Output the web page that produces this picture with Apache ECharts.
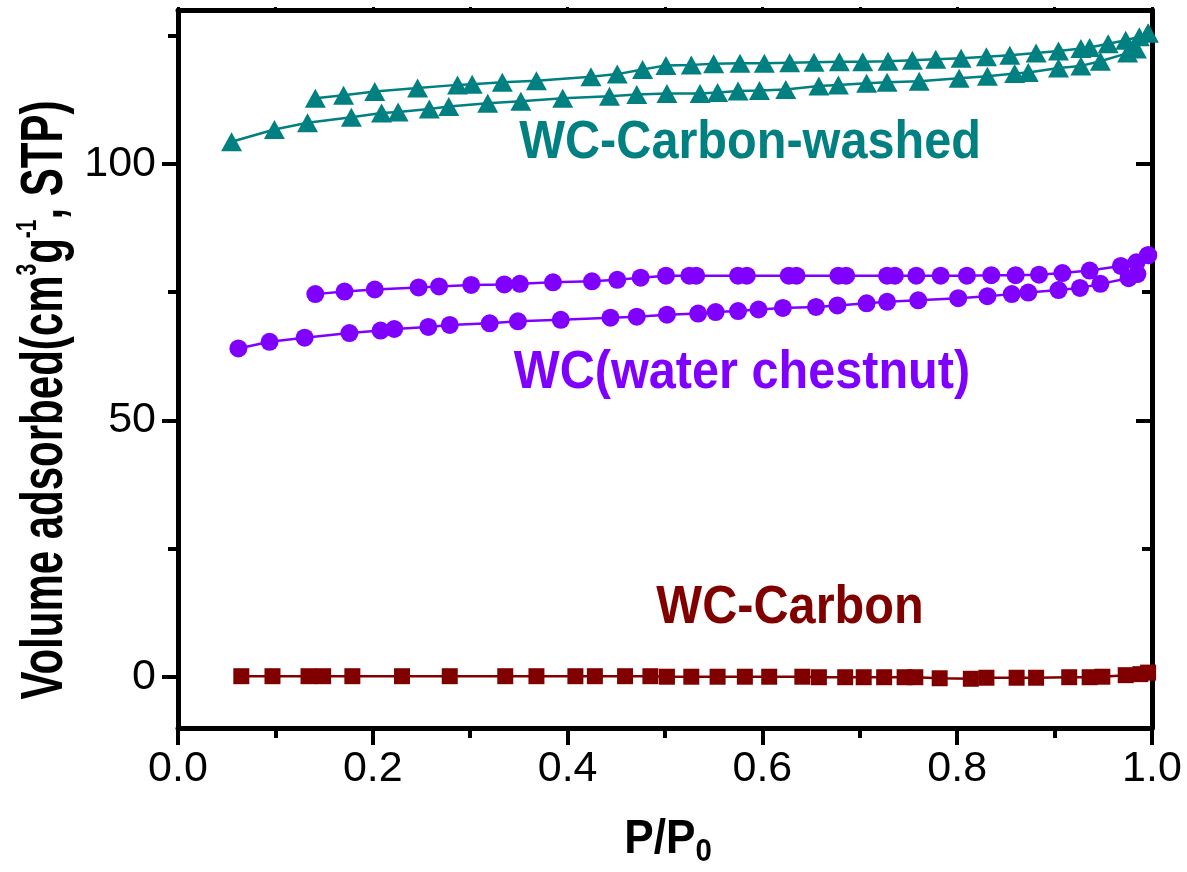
<!DOCTYPE html>
<html>
<head>
<meta charset="utf-8">
<title>N2 isotherms</title>
<script src="https://cdn.jsdelivr.net/npm/echarts@6/dist/echarts.min.js"></script>
<style>
html, body { margin: 0; padding: 0; background: #fff; }
#chart { width: 1187px; height: 872px; }
</style>
</head>
<body>
<div id="chart"></div>
<script>
var FONT = '"Liberation Sans", Arial, sans-serif';

// WC-Carbon-washed (adsorption / desorption)
var washedAdsP = [0.055, 0.099, 0.133, 0.178, 0.209, 0.226, 0.258, 0.278, 0.318, 0.352, 0.395, 0.443, 0.471, 0.502, 0.536, 0.554, 0.575, 0.597, 0.624, 0.658, 0.678, 0.707, 0.728, 0.761, 0.802, 0.831, 0.859, 0.873, 0.904, 0.927, 0.947, 0.975, 0.984, 0.996];
var washedAdsV = [104.3, 106.7, 108.0, 109.1, 109.9, 110.1, 110.7, 111.2, 111.8, 112.2, 112.8, 113.2, 113.5, 113.7, 113.7, 113.9, 114.2, 114.3, 114.5, 115.2, 115.4, 115.7, 115.9, 116.1, 116.7, 117.1, 117.6, 117.8, 118.7, 119.1, 120.0, 121.6, 122.4, 125.5];
var washedDesP = [0.996, 0.987, 0.973, 0.955, 0.936, 0.927, 0.904, 0.881, 0.854, 0.830, 0.804, 0.778, 0.754, 0.729, 0.703, 0.679, 0.653, 0.628, 0.602, 0.577, 0.550, 0.527, 0.501, 0.477, 0.451, 0.424, 0.368, 0.333, 0.302, 0.287, 0.246, 0.202, 0.170, 0.141];
var washedDesV = [125.5, 124.8, 124.1, 123.4, 122.7, 122.5, 122.0, 121.6, 121.2, 120.9, 120.6, 120.4, 120.2, 120.0, 119.9, 119.9, 119.8, 119.7, 119.6, 119.6, 119.5, 119.3, 119.2, 118.4, 117.5, 117.0, 116.2, 115.9, 115.5, 115.4, 114.8, 114.1, 113.4, 112.8];

// WC(water chestnut)
var chestAdsP = [0.062, 0.094, 0.130, 0.176, 0.208, 0.222, 0.257, 0.279, 0.320, 0.349, 0.393, 0.444, 0.471, 0.502, 0.534, 0.552, 0.575, 0.596, 0.621, 0.655, 0.677, 0.707, 0.728, 0.760, 0.801, 0.831, 0.856, 0.873, 0.904, 0.926, 0.947, 0.976, 0.985, 0.996];
var chestAdsV = [64.0, 65.3, 66.1, 67.0, 67.5, 67.8, 68.2, 68.6, 68.9, 69.3, 69.6, 70.0, 70.2, 70.6, 70.8, 71.1, 71.3, 71.6, 71.9, 72.1, 72.4, 72.8, 73.1, 73.4, 73.8, 74.2, 74.6, 74.9, 75.4, 75.8, 76.6, 77.7, 78.5, 82.2];
var chestDesP = [0.996, 0.984, 0.968, 0.936, 0.908, 0.884, 0.860, 0.835, 0.810, 0.783, 0.758, 0.736, 0.728, 0.686, 0.678, 0.635, 0.627, 0.584, 0.575, 0.532, 0.525, 0.501, 0.475, 0.451, 0.425, 0.385, 0.351, 0.335, 0.301, 0.268, 0.247, 0.202, 0.171, 0.141];
var chestDesV = [82.2, 80.8, 80.1, 79.2, 78.7, 78.4, 78.3, 78.3, 78.2, 78.2, 78.2, 78.2, 78.2, 78.2, 78.2, 78.2, 78.2, 78.2, 78.2, 78.2, 78.2, 78.2, 77.8, 77.4, 77.1, 76.9, 76.6, 76.5, 76.4, 76.1, 75.9, 75.5, 75.1, 74.6];

// WC-Carbon
var carbonP = [0.065, 0.097, 0.134, 0.149, 0.179, 0.230, 0.279, 0.336, 0.368, 0.408, 0.428, 0.459, 0.485, 0.502, 0.527, 0.554, 0.582, 0.607, 0.641, 0.658, 0.685, 0.704, 0.725, 0.746, 0.757, 0.782, 0.814, 0.830, 0.861, 0.881, 0.915, 0.936, 0.949, 0.973, 0.988, 0.996];
var carbonV = [0.1, 0.1, 0.1, 0.1, 0.1, 0.1, 0.1, 0.1, 0.1, 0.1, 0.1, 0.1, 0.1, 0.0, 0.0, 0.0, 0.0, 0.0, 0.0, -0.1, -0.1, -0.1, -0.1, -0.1, -0.1, -0.3, -0.4, -0.2, -0.2, -0.2, -0.1, -0.1, 0.0, 0.3, 0.5, 0.8];

// axis ticks
var yMajor = [0, 50, 100];
var yMinor = [25, 75, 125];

var TEAL = '#008080';
var VIOLET = '#8000ff';
var MAROON = '#800000';

function pairs(p, v) {
	var out = [];
	for(var i = 0; i < p.length; i++) {
		out.push([p[i], v[i]]);
	}
	return out;
}

function iso(name, p, v, color, symbol, size) {
	return {
		name: name,
		type: 'line',
		data: pairs(p, v),
		symbol: symbol,
		symbolSize: size,
		showAllSymbol: true,
		itemStyle: { color: color },
		lineStyle: { color: color, width: 2.5 },
		xAxisIndex: 0,
		yAxisIndex: 0
	};
}

function yAxisOf(position, ticks, len, inside, showLine, showLabel) {
	return {
		type: 'value',
		position: position,
		min: -10,
		max: 130,
		axisLine: { show: showLine, onZero: false, lineStyle: { color: '#000', width: 5 } },
		axisTick: { show: true, inside: inside, length: len, customValues: ticks, lineStyle: { color: '#000', width: 4 } },
		axisLabel: { show: showLabel, customValues: ticks, margin: 22, fontSize: 43, color: '#000', fontFamily: FONT },
		splitLine: { show: false }
	};
}

var chart = echarts.init(document.getElementById('chart'));

var option = {
	animation: false,
	backgroundColor: '#fff',
	grid: { left: 178, right: 35, top: 10, bottom: 144 },
	xAxis: [{
		type: 'value',
		position: 'bottom',
		min: 0,
		max: 1,
		interval: 0.2,
		axisLine: { onZero: false, lineStyle: { color: '#000', width: 5 } },
		axisTick: { length: 17, lineStyle: { color: '#000', width: 4 } },
		minorTick: { show: true, splitNumber: 2, length: 10, lineStyle: { color: '#000', width: 4 } },
		axisLabel: {
			margin: 20,
			fontSize: 43,
			color: '#000',
			fontFamily: FONT,
			formatter: function(v) { return v.toFixed(1); }
		},
		splitLine: { show: false }
	}, {
		type: 'value',
		position: 'top',
		min: 0,
		max: 1,
		interval: 0.1,
		axisLine: { onZero: false, lineStyle: { color: '#000', width: 5 } },
		axisTick: { length: 3, lineStyle: { color: '#000', width: 3 } },
		axisLabel: { show: false },
		splitLine: { show: false }
	}],
	yAxis: [
		yAxisOf('left', yMajor, 16, false, true, true),
		yAxisOf('left', yMinor, 10, false, false, false),
		yAxisOf('right', yMajor, 16, true, true, false),
		yAxisOf('right', yMinor, 10, true, false, false)
	],
	series: [
		iso('WC-Carbon ads', carbonP, carbonV, MAROON, 'rect', 16),
		iso('WC ads', chestAdsP, chestAdsV, VIOLET, 'circle', 18),
		iso('WC des', chestDesP, chestDesV, VIOLET, 'circle', 18),
		iso('washed ads', washedAdsP, washedAdsV, TEAL, 'triangle', [21, 19]),
		iso('washed des', washedDesP, washedDesV, TEAL, 'triangle', [21, 19])
	],
	graphic: [{
		type: 'text',
		x: 750, y: 143,
		scaleX: 0.9,
		style: { text: 'WC-Carbon-washed', font: 'bold 54px ' + FONT, fill: TEAL, align: 'center', verticalAlign: 'middle' }
	}, {
		type: 'text',
		x: 742, y: 373,
		scaleX: 0.9,
		style: { text: 'WC(water chestnut)', font: 'bold 54px ' + FONT, fill: VIOLET, align: 'center', verticalAlign: 'middle' }
	}, {
		type: 'text',
		x: 790, y: 608,
		scaleX: 0.9,
		style: { text: 'WC-Carbon', font: 'bold 54px ' + FONT, fill: MAROON, align: 'center', verticalAlign: 'middle' }
	}, {
		// y title, reads bottom to top
		type: 'text',
		x: 45, y: 400,
		rotation: Math.PI / 2,
		scaleX: 0.7,
		style: {
			text: 'Volume adsorbed(cm{sup|3}g{sup|-1}, STP)',
			font: 'bold 60px ' + FONT,
			fill: '#000',
			align: 'center',
			verticalAlign: 'middle',
			lineHeight: 64,
			rich: {
				sup: { font: 'bold 30px ' + FONT, fill: '#000', verticalAlign: 'top', lineHeight: 64 }
			}
		}
	}, {
		type: 'text',
		x: 668, y: 840,
		scaleX: 0.92,
		style: {
			text: 'P/P{sub|0}',
			font: 'bold 48px ' + FONT,
			fill: '#000',
			align: 'center',
			verticalAlign: 'middle',
			lineHeight: 56,
			rich: {
				sub: { font: 'bold 32px ' + FONT, fill: '#000', verticalAlign: 'bottom', lineHeight: 56 }
			}
		}
	}]
};

chart.setOption(option);
</script>
</body>
</html>
